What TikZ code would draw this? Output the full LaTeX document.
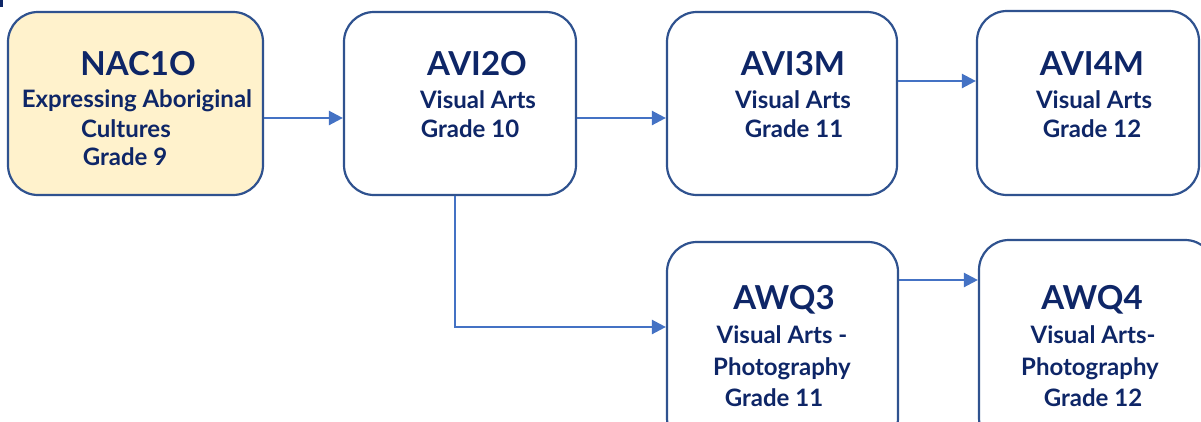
\documentclass[tikz,border=0pt]{standalone}
\usepackage{fontspec}
\setmainfont{Lato}
\usetikzlibrary{arrows.meta}
\definecolor{navy}{HTML}{0E2667}
\definecolor{bord}{HTML}{2F528F}
\definecolor{arrc}{HTML}{4472C4}
\definecolor{cream}{HTML}{FFF2CC}
\tikzset{
 box/.style={draw=bord, line width=2.2pt, rounded corners=30pt, fill=white, inner sep=0pt},
 ttl/.style={anchor=base, text=navy, font=\fontsize{33}{33}\selectfont\bfseries, inner sep=0pt},
 sub/.style={anchor=base, text=navy, font=\fontsize{24}{24}\selectfont\bfseries, inner sep=0pt},
 arr/.style={draw=arrc, line width=2.4pt, -{Triangle[length=14pt,width=14pt]}},
}
\begin{document}
\begin{tikzpicture}[x=1pt,y=-1pt]
\useasboundingbox (0,0) rectangle (1201,421);
\clip (0,0) rectangle (1201,421);
\fill[navy] (0,0) rectangle (3,7);
% boxes
\node[box, fill=cream, minimum width=255pt, minimum height=183pt] (nac) at (135.5,103.5) {};
\node[box, minimum width=232pt, minimum height=183pt] (avi2o) at (460,103.5) {};
\node[box, minimum width=230pt, minimum height=183pt] (avi3m) at (782,103.5) {};
\node[box, minimum width=222pt, minimum height=184pt] (avi4m) at (1088,103) {};
\node[box, minimum width=231pt, minimum height=206pt] (awq3) at (782.5,345) {};
\node[box, minimum width=236pt, minimum height=208pt] (awq4) at (1097,344) {};
% texts
\node[ttl] (nacT) at (138,75) {NAC1O};
\node[sub] (nac1) at (137,107) {Expressing Aboriginal};
\node[sub] (nac2) at (126,137) {Cultures};
\node[sub] (nac3) at (125,165) {Grade 9};
\node[ttl] (avi2oT) at (477,75) {AVI2O};
\node[sub] (avi2o1) at (478,108) {Visual Arts};
\node[sub] (avi2o2) at (470,137) {Grade 10};
\node[ttl] (avi3mT) at (793,75) {AVI3M};
\node[sub] (avi3m1) at (793,108) {Visual Arts};
\node[sub] (avi3m2) at (794,137) {Grade 11};
\node[ttl] (avi4mT) at (1092,75) {AVI4M};
\node[sub] (avi4m1) at (1094,108) {Visual Arts};
\node[sub] (avi4m2) at (1092,137) {Grade 12};
\node[ttl] (awq3T) at (784,309) {AWQ3};
\node[sub] (awq31) at (782,343) {Visual Arts -};
\node[sub] (awq32) at (782,375) {Photography};
\node[sub] (awq33) at (774,406) {Grade 11};
\node[ttl] (awq4T) at (1092,309) {AWQ4};
\node[sub] (awq41) at (1093,343) {Visual Arts-};
\node[sub] (awq42) at (1090,375) {Photography};
\node[sub] (awq43) at (1093,406) {Grade 12};
% connectors
\coordinate (r1) at (0,118);
\coordinate (r2) at (0,81);
\coordinate (r3) at (0,280);
\coordinate (k) at (455,327);
\draw[arr] (nac.east |- r1) -- (avi2o.west |- r1);
\draw[arr] (avi2o.east |- r1) -- (avi3m.west |- r1);
\draw[arr] (avi3m.east |- r2) -- (avi4m.west |- r2);
\draw[arr] (avi2o.south -| k) |- (awq3.west |- k);
\draw[arr] (awq3.east |- r3) -- (awq4.west |- r3);
\end{tikzpicture}
\end{document}
